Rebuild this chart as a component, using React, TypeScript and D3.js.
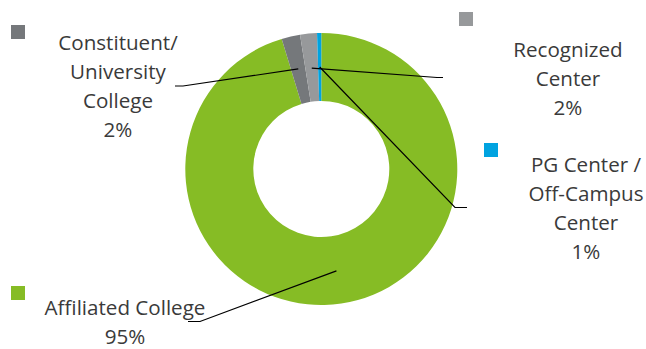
import React from "react";
import * as d3 from "d3";

const categories = ["Affiliated College", "Constituent/ University College", "Recognized Center", "PG Center / Off-Campus Center"];
const values = [95.3, 2.2, 2.0, 0.5];
const percentLabels = ["95%", "2%", "2%", "1%"];
const labelLines = [
  ["Affiliated College"],
  ["Constituent/", "University", "College"],
  ["Recognized", "Center"],
  ["PG Center /", "Off-Campus", "Center"],
];
const colors = ["#86BC25", "#75787B", "#97999B", "#00A3E0"];

const W = 646, H = 349;
const cx = 321.3, cy = 169, R = 136, r0 = 68;

// label layout: centre x, first baseline, square pos, leader polyline
const labelPos = [
  { x: 125, y: 315, sq: [11, 286], line: [[188, 321.5], [200, 321.5]], anchorR: 0.757 },
  { x: 118, y: 50, sq: [11, 25], line: [[175, 86], [183, 86]], anchorR: 0.755 },
  { x: 568, y: 57, sq: [459, 12], line: [[443, 77.5], [437, 77.5]], anchorR: 0.745 },
  { x: 586, y: 172, sq: [484, 143], line: [[467, 207.5], [455, 207.5]], anchorR: 0.75 },
];

export default function App() {
  const pie = d3.pie<number>().sort(null).value((d) => d)(values);
  const arc = d3.arc<d3.PieArcDatum<number>>().innerRadius(r0).outerRadius(R);
  const lh = 29;
  return (
    <svg width={W} height={H} style={{ position: "absolute", left: 0, top: 0 }}>
      <rect width={W} height={H} fill="#fff" />
      <g transform={`translate(${cx},${cy})`}>
        {pie.map((p, i) => (
          <path key={i} d={arc(p) || ""} fill={colors[i]} />
        ))}
      </g>
      {pie.map((p, i) => {
        const L = labelPos[i];
        const mid = (p.startAngle + p.endAngle) / 2;
        const rr = R * L.anchorR;
        const ax = cx + Math.sin(mid) * rr;
        const ay = cy - Math.cos(mid) * rr;
        const pts = [[ax, ay], L.line[1], L.line[0]];
        return (
          <polyline key={"l" + i} points={pts.map((q) => q.join(",")).join(" ")} fill="none" stroke="#000" strokeWidth={1.2} />
        );
      })}
      {labelPos.map((L, i) => (
        <g key={"t" + i}>
          <rect x={L.sq[0]} y={L.sq[1]} width={14} height={14} fill={colors[i]} />
          <text textAnchor="middle" fontFamily="'Open Sans', sans-serif" fontWeight={400} fontSize={20.6} fill="#3a3a3a">
            {[...labelLines[i], percentLabels[i]].map((s, j) => (
              <tspan key={j} x={L.x} y={L.y + j * lh}>{s}</tspan>
            ))}
          </text>
        </g>
      ))}
    </svg>
  );
}
